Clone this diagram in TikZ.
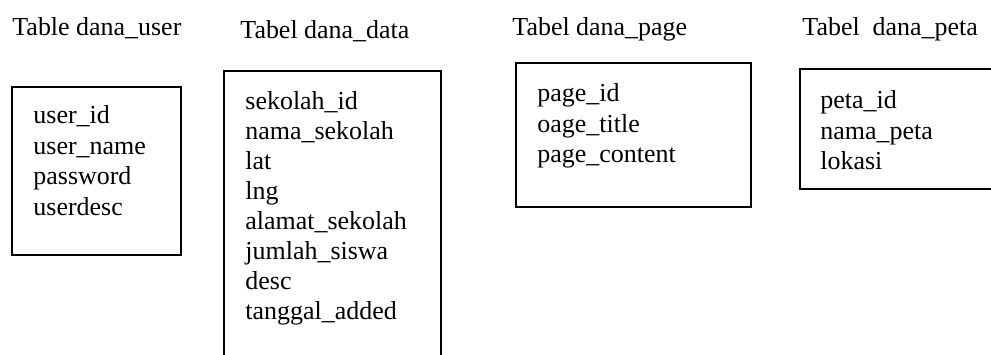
\documentclass[tikz,border=0pt]{standalone}
\usepackage{fontspec}
\setmainfont{Liberation Serif}

\begin{document}
\begin{tikzpicture}[x=0.4624pt,y=-0.4624pt,
    tbox/.style={line width=0.7pt},
    title/.style={anchor=north west,inner sep=0pt,font=\fontsize{12}{14}\selectfont},
    field/.style={anchor=north west,inner sep=0pt,align=left,font=\fontsize{12}{14.2}\selectfont}]

    \useasboundingbox (0,0) rectangle (991,354);
    \clip (0,0) rectangle (991,354);

    % titles
    \node[title] (tuser) at (12,17) {Table dana\_user};
    \node[title] (tdata) at (240,20) {Tabel dana\_data};
    \node[title] (tpage) at (512,17) {Tabel dana\_page};
    \node[title] (tpeta) at (802,17) {Tabel\ \ dana\_peta};

    % dana_user
    \draw[tbox] (12,87) rectangle (181,255);
    \node[field] (fuser) at (33,105) {user\_id\\user\_name\\password\\userdesc};

    % dana_data
    \draw[tbox] (224,71) rectangle (441,370);
    \node[field,font=\fontsize{12}{13.9}\selectfont] (fdata) at (245,91) {sekolah\_id\\nama\_sekolah\\lat\\lng\\alamat\_sekolah\\jumlah\_siswa\\desc\\tanggal\_added};

    % dana_page
    \draw[tbox] (516,63) rectangle (751,207);
    \node[field] (fpage) at (537,83) {page\_id\\oage\_title\\page\_content};

    % dana_peta
    \draw[tbox] (800,69) rectangle (1000,189);
    \node[field] (fpeta) at (820,90) {peta\_id\\nama\_peta\\lokasi};

\end{tikzpicture}
\end{document}
